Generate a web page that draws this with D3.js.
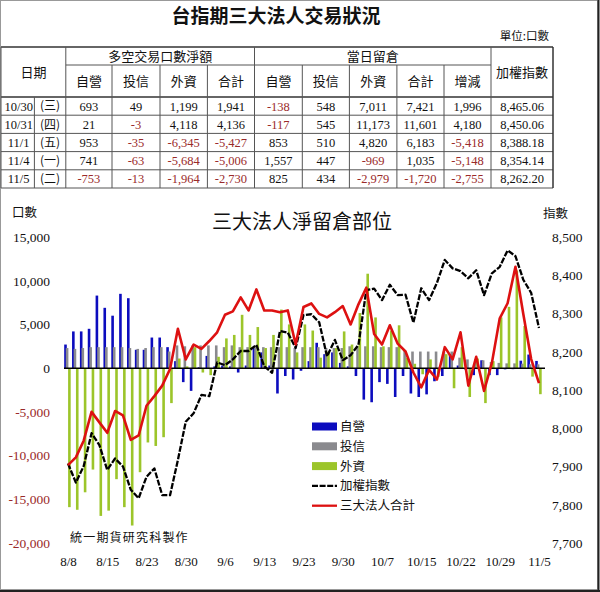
<!DOCTYPE html>
<html><head><meta charset="utf-8">
<script src="https://cdn.jsdelivr.net/npm/d3@7"></script>
<style>body{margin:0;background:#fff} svg{display:block}</style>
</head><body><svg id="c" width="600" height="592"></svg>
<script>
// ---------- DATA ----------
const dates = ["8/8","8/9","8/12","8/13","8/14","8/15","8/16","8/19","8/20","8/22","8/23","8/26","8/27","8/28","8/29","8/30",
"9/2","9/3","9/4","9/5","9/6","9/9","9/10","9/11","9/12","9/13","9/14","9/16","9/17","9/18","9/23","9/24","9/25","9/26","9/27","9/30",
"10/1","10/2","10/3","10/4","10/7","10/8","10/9","10/11","10/14","10/15","10/16","10/17","10/18","10/21","10/22","10/23","10/24","10/25","10/28","10/29","10/30","10/31",
"11/1","11/4","11/5"];
const xTickLabels = ["8/8","8/15","8/23","8/30","9/6","9/13","9/23","9/30","10/7","10/15","10/22","10/29","11/5"];
const leftTicks = [15000,10000,5000,0,-5000,-10000,-15000,-20000];
const rightTicks = [8500,8400,8300,8200,8100,8000,7900,7800,7700];

const dealer = [2700,4200,4200,4500,8300,6900,6000,8500,8000,2100,2100,3500,3500,2400,800,-1600,-2600,100,1400,200,
300,200,-500,300,2300,1800,300,-2900,-900,-1300,-300,800,2900,1600,1800,600,200,-900,-3600,-3900,
-1600,-1800,-3300,-900,-2900,-3300,-3000,-1500,-900,1600,300,-200,-800,900,-800,-800,-138,-117,853,1557,825];
const trust = [2300,2200,2300,2400,2400,2400,2400,2400,2300,2200,2300,2400,2400,1900,2600,2500,2600,2600,2600,2600,
2400,2600,2400,2400,2400,2400,2400,2400,2400,2300,2400,2400,2400,2300,2300,2300,2500,2500,2500,2500,
2400,2400,2400,2000,1900,1900,1900,1900,1900,1900,1200,1000,1000,900,700,600,548,545,510,447,434];
const foreign = [-15900,-16200,-14200,-11600,-16900,-16300,-12700,-15900,-18000,-11900,-8500,-8900,-7900,-4000,1100,200,2400,-500,-800,1300,
3400,3800,6100,3800,4700,2300,3800,6700,5000,1800,5000,4300,1200,1900,2300,4200,2700,6300,10800,5800,
2500,4300,4900,1200,500,-700,1000,-1000,1600,-2300,2400,-3300,1100,-4000,800,5800,7011,11173,4820,-969,-2979];
const total = [-11100,-10200,-8300,-5000,-6200,-7400,-4900,-5400,-8200,-7700,-4300,-3200,-2000,-100,4500,1000,2700,2200,3100,4100,
6100,6500,8100,6600,9000,6600,6600,6400,6600,2700,7000,7400,6200,5800,6400,7100,5000,7300,9200,3900,
2700,4900,2800,1900,-500,-2200,-200,-1300,2400,1000,4100,-2000,1300,-2600,600,5700,7421,11601,6183,1035,-1720];
const taiex = [7908,7858,7901,7987,7956,7891,7921,7900,7839,7817,7873,7895,7825,7825,7917,8017,8039,8087,8084,8172,
8165,8180,8202,8202,8218,8162,8145,8254,8250,8210,8296,8298,8277,8188,8231,8178,8191,8218,8361,8365,
8335,8375,8348,8349,8276,8366,8335,8380,8440,8418,8411,8392,8413,8348,8405,8422,8465.06,8450.06,8388.18,8354.14,8262.20];

// table
const tblDate = ["10/30","10/31","11/1","11/4","11/5"];
const tblDay = ["(三)","(四)","(五)","(一)","(二)"];
const netDealer = [693,21,953,741,-753];
const netTrust = [49,-3,-35,-63,-13];
const netForeign = [1199,4118,-6345,-5684,-1964];
const netTotal = [1941,4136,-5427,-5006,-2730];
const oiDealer = [-138,-117,853,1557,825];
const oiTrust = [548,545,510,447,434];
const oiForeign = [7011,11173,4820,-969,-2979];
const oiTotal = [7421,11601,6183,1035,-1720];
const oiChange = [1996,4180,-5418,-5148,-2755];
const tblIndex = [8465.06,8450.06,8388.18,8354.14,8262.20];
const subHeads = ["自營","投信","外資","合計","自營","投信","外資","合計","增減"];

// ---------- DRAW ----------
const CJK = '"Noto Sans CJK TC","Noto Sans CJK SC",sans-serif';
const NUM = '"Liberation Serif","DejaVu Serif",serif';
const NEG = '#9a2a2a';
const svg = d3.select('#c');

// frame
svg.append('rect').attr('x',0.5).attr('y',0.5).attr('width',597).attr('height',589).attr('fill','none').attr('stroke','#999');
svg.append('line').attr('x1',598.5).attr('x2',598.5).attr('y1',0).attr('y2',592).attr('stroke','#222').attr('stroke-width',2);
svg.append('line').attr('x1',0).attr('x2',600).attr('y1',591).attr('y2',591).attr('stroke','#222').attr('stroke-width',2);

// title
svg.append('text').attr('x',276).attr('y',23).attr('text-anchor','middle').attr('font-family',CJK)
  .attr('font-size',19).attr('font-weight',700).attr('fill','#111').text('台指期三大法人交易狀況');
svg.append('text').attr('x',549).attr('y',40).attr('text-anchor','end').attr('font-family',CJK)
  .attr('font-size',11.5).attr('fill','#111').text('單位:口數');

// table grid
const colX = [1,34.4,65.8,112,160,207.4,254.5,302.3,349.4,396.9,444,491,553];
const rowY = [47,65,97,115.2,133.4,151.6,169.8,188];
const T = svg.append('g');
const ln = (x1,y1,x2,y2,w,c)=>T.append('line').attr('x1',x1).attr('y1',y1).attr('x2',x2).attr('y2',y2)
  .attr('stroke',c||'#555').attr('stroke-width',w||1);
ln(colX[0],rowY[0],colX[12],rowY[0],1.5,'#333');
ln(colX[2],rowY[1],colX[11],rowY[1],1,'#555');
ln(colX[0],rowY[2],colX[12],rowY[2],1.5,'#333');
for(let r=3;r<rowY.length;r++) ln(colX[0],rowY[r],colX[12],rowY[r],1,'#555');
ln(colX[0],rowY[0],colX[0],rowY[7],1,'#555');
ln(colX[1],rowY[2],colX[1],rowY[7],1,'#555');
ln(colX[2],rowY[0],colX[2],rowY[7],1,'#555');
ln(colX[6],rowY[0],colX[6],rowY[7],1,'#555');
ln(colX[11],rowY[0],colX[11],rowY[7],1,'#555');
ln(colX[12],rowY[0],colX[12],rowY[7],1.5,'#333');
for(const c of [3,4,5,7,8,9,10]) ln(colX[c],rowY[1],colX[c],rowY[7],1,'#555');

const tt = (x,y,s,f,sz,col)=>T.append('text').attr('x',x).attr('y',y).attr('dy','0.36em').attr('text-anchor','middle')
  .attr('font-family',f).attr('font-size',sz).attr('fill',col||'#111').text(s);
tt((colX[0]+colX[2])/2,(rowY[0]+rowY[2])/2,'日期',CJK,13);
tt((colX[2]+colX[6])/2,(rowY[0]+rowY[1])/2,'多空交易口數淨額',CJK,13);
tt((colX[6]+colX[11])/2,(rowY[0]+rowY[1])/2,'當日留倉',CJK,13);
tt((colX[11]+colX[12])/2,(rowY[0]+rowY[2])/2,'加權指數',CJK,13);
subHeads.forEach((h,i)=>tt((colX[i+2]+colX[i+3])/2,(rowY[1]+rowY[2])/2,h,CJK,13));
const fmt = d3.format(',');
const sfmt = v => (v<0?'-':'') + fmt(Math.abs(v));
const cols = [netDealer,netTrust,netForeign,netTotal,oiDealer,oiTrust,oiForeign,oiTotal,oiChange];
tblDate.forEach((d,r)=>{
  const cy=(rowY[r+2]+rowY[r+3])/2;
  tt((colX[0]+colX[1])/2+1,cy,d,NUM,12.5);
  tt((colX[1]+colX[2])/2,cy,tblDay[r],CJK,12);
  cols.forEach((arr,c)=>{const v=arr[r]; tt((colX[c+2]+colX[c+3])/2,cy,sfmt(v),NUM,12.5,v<0?NEG:'#111');});
  tt((colX[11]+colX[12])/2,cy,d3.format(',.2f')(tblIndex[r]),NUM,12.5);
});

// chart
const x = d3.scalePoint().domain(dates).range([68,539]);
const yL = d3.scaleLinear().domain([-20000,15000]).range([543,237]);
const yR = d3.scaleLinear().domain([7700,8500]).range([543,237]);

svg.append('text').attr('x',302).attr('y',229).attr('text-anchor','middle').attr('font-family',CJK)
  .attr('font-size',20).attr('fill','#111').text('三大法人淨留倉部位');
svg.append('text').attr('x',12).attr('y',217).attr('font-family',CJK).attr('font-size',12.5).attr('fill','#111').text('口數');
svg.append('text').attr('x',543).attr('y',218).attr('font-family',CJK).attr('font-size',12.5).attr('fill','#111').text('指數');

const gl = svg.append('g').attr('transform','translate(52,0)')
  .call(d3.axisLeft(yL).tickValues(leftTicks).tickSize(0).tickPadding(2).tickFormat(sfmt));
gl.select('.domain').remove();
gl.selectAll('text').attr('font-family',NUM).attr('font-size',13.5).attr('fill',d=>d<0?NEG:'#111');

const gr = svg.append('g').attr('transform','translate(550,0)')
  .call(d3.axisRight(yR).tickValues(rightTicks).tickSize(0).tickPadding(2).tickFormat(fmt));
gr.select('.domain').remove();
gr.selectAll('text').attr('font-family',NUM).attr('font-size',13.5).attr('fill','#111');

const gx = svg.append('g').attr('transform','translate(0,550)')
  .call(d3.axisBottom(x).tickValues(xTickLabels).tickSize(0).tickPadding(7));
gx.select('.domain').remove();
gx.selectAll('text').attr('font-family',NUM).attr('font-size',13).attr('fill','#111');

// bars
const bw = 2.6;
const series = [
  {vals:dealer, off:-3.8, col:'#0c0cbe'},
  {vals:trust, off:-2.2, col:'#8a8a8e'},
  {vals:foreign, off:0.1, col:'#9cc52a'}
];
series.forEach(s=>{
  svg.append('g').selectAll('rect').data(s.vals).join('rect')
    .attr('x',(d,i)=>x(dates[i])+s.off).attr('width',bw)
    .attr('y',d=>yL(Math.max(0,d))).attr('height',d=>Math.abs(yL(d)-yL(0)))
    .attr('fill',s.col);
});
// zero line
svg.append('line').attr('x1',x.range()[0]-4).attr('x2',x.range()[1]+6).attr('y1',yL(0)).attr('y2',yL(0))
  .attr('stroke','#000').attr('stroke-width',1.5);

// lines
const lineR = d3.line().x((d,i)=>x(dates[i])).y(d=>yR(d));
const lineL = d3.line().x((d,i)=>x(dates[i])).y(d=>yL(d));
svg.append('path').attr('d',lineR(taiex)).attr('fill','none').attr('stroke','#000').attr('stroke-width',2.3)
  .attr('stroke-dasharray','6,1.6').attr('stroke-linejoin','round');
svg.append('path').attr('d',lineL(total)).attr('fill','none').attr('stroke','#dd1111').attr('stroke-width',2.6)
  .attr('stroke-linejoin','round');

// watermark
svg.append('text').attr('x',70).attr('y',542).attr('font-family',CJK).attr('font-size',12).attr('letter-spacing',1.2)
  .attr('fill','#111').text('統一期貨研究科製作');

// legend
const leg = svg.append('g');
const items = [
  {t:'自營',type:'rect',col:'#0c0cbe'},
  {t:'投信',type:'rect',col:'#8a8a8e'},
  {t:'外資',type:'rect',col:'#9cc52a'},
  {t:'加權指數',type:'dash',col:'#000'},
  {t:'三大法人合計',type:'line',col:'#dd1111'}
];
items.forEach((it,i)=>{
  const cy = 426.5 + i*19.8;
  if(it.type==='rect') leg.append('rect').attr('x',312).attr('y',cy-4).attr('width',25).attr('height',8).attr('fill',it.col);
  else leg.append('line').attr('x1',312).attr('x2',337).attr('y1',cy).attr('y2',cy).attr('stroke',it.col)
    .attr('stroke-width',2.3).attr('stroke-dasharray',it.type==='dash'?'6,1.6':null);
  leg.append('text').attr('x',340).attr('y',cy).attr('dy','0.36em').attr('font-family',CJK).attr('font-size',12.5)
    .attr('fill','#111').text(it.t);
});
</script></body></html>
